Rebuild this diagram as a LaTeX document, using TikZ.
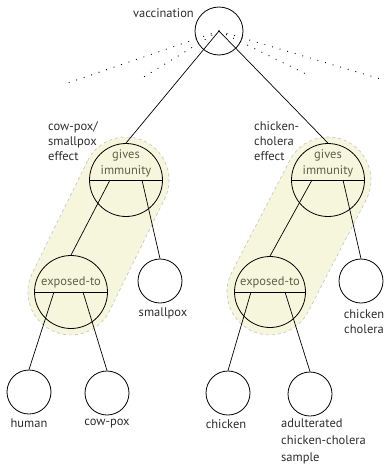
\documentclass[tikz,border=0pt]{standalone}
\usepackage{fontspec}
\setmainfont{PT Sans}
\usetikzlibrary{calc}
\definecolor{txt}{RGB}{45,45,45}
\definecolor{intxt}{RGB}{95,95,75}
\definecolor{blobfill}{RGB}{245,246,220}
\definecolor{blobline}{RGB}{195,195,195}
\begin{document}
\begin{tikzpicture}[x=1pt,y=1pt,
  big/.style={circle, draw, line width=0.8pt, minimum size=73pt, inner sep=0},
  small/.style={circle, draw, line width=0.8pt, minimum size=44pt, inner sep=0},
  lbl/.style={text=txt, font=\fontsize{12.5}{15}\selectfont, inner sep=0},
  intext/.style={text=intxt, font=\fontsize{12.5}{16}\selectfont, inner sep=0, align=center},
  conn/.style={line width=0.7pt},
  dots/.style={line width=0.9pt, dash pattern=on 0.9pt off 7pt},
  blob/.style={fill=blobfill, draw=blobline, dashed, line width=0.6pt}]
\useasboundingbox (0,0) rectangle (386,-466);
% shaded groups
\begin{scope}[shift={(126,-180)}, rotate=243.8]
\path[blob] (0,-43) -- (124.8,-43) arc[start angle=-90,end angle=90,radius=43] -- (0,43) arc[start angle=90,end angle=270,radius=43] -- cycle;
\end{scope}
\begin{scope}[shift={(328,-180)}, rotate=242.6]
\path[blob] (0,-43) -- (126.1,-43) arc[start angle=-90,end angle=90,radius=43] -- (0,43) arc[start angle=90,end angle=270,radius=43] -- cycle;
\end{scope}
% nodes
\node[big, minimum size=48pt] (vac) at (219,-31) {};
\node[lbl, anchor=east] (vlab) at (194,-13) {vaccination};
\node[big] (gl) at (126,-180) {};
\node[big] (gr) at (328,-180) {};
\node[big] (el) at (71,-292) {};
\node[big, minimum size=71pt] (er) at (270,-292) {};
\node[small] (sp) at (160,-281) {};
\node[small] (cc) at (361,-281) {};
\node[small] (hu) at (29,-392) {};
\node[small] (cp) at (107,-393) {};
\node[small] (ch) at (228,-393) {};
\node[small] (ad) at (310,-394) {};
% texts in circles
\node[intext] (glt) at (126,-163) {gives\\immunity};
\node[intext] (grt) at (328,-163) {gives\\immunity};
\node[intext] (elt) at (71,-282) {exposed-to};
\node[intext] (ert) at (270,-282) {exposed-to};
\draw[conn] (gl.west) -- (gl.east);
\draw[conn] (gr.west) -- (gr.east);
\draw[conn] (el.west) -- (el.east);
\draw[conn] (er.west) -- (er.east);
% labels
\node[lbl, align=left, anchor=north west] (lgl) at (48,-121) {cow-pox/\\smallpox\\effect};
\node[lbl, align=left, anchor=north west] (lgr) at (254,-121) {chicken-\\cholera\\effect};
\node[lbl, anchor=north] (lsp) at (163,-308) {smallpox};
\node[lbl, align=center, anchor=north] (lcc) at (364,-309) {chicken\\cholera};
\node[lbl, anchor=north] (lhu) at (29,-419) {human};
\node[lbl, anchor=north] (lcp) at (107,-419) {cow-pox};
\node[lbl, anchor=north] (lch) at (226,-419) {chicken};
\node[lbl, align=left, anchor=north west, font=\fontsize{12.5}{17}\selectfont] (lad) at (281,-419) {adulterated\\chicken-cholera\\sample};
% dotted
\coordinate (d1) at (65,-84);
\coordinate (d2) at (142,-78);
\coordinate (d3) at (308,-75);
\coordinate (d4) at (384,-80);
\foreach \d in {d1,d2,d3,d4} \draw[dots] (vac.center) -- (\d);
% connectors
\draw[conn] (vac.center) -- (gl.north);
\draw[conn] (vac.center) -- (gr.north);
\draw[conn] ($(gl.center)+(-16,0)$) -- (el.north);
\draw[conn] ($(gl.center)+(16,0)$) -- (sp.north);
\draw[conn] ($(gr.center)+(-16,0)$) -- (er.north);
\draw[conn] ($(gr.center)+(15,0)$) -- (cc.north);
\draw[conn] ($(el.center)+(-17,0)$) -- (hu.north);
\draw[conn] ($(el.center)+(12,0)$) -- (cp.north);
\draw[conn] ($(er.center)+(-19,0)$) -- (ch.north);
\draw[conn] ($(er.center)+(15,0)$) -- (ad.north);
\end{tikzpicture}
\end{document}
